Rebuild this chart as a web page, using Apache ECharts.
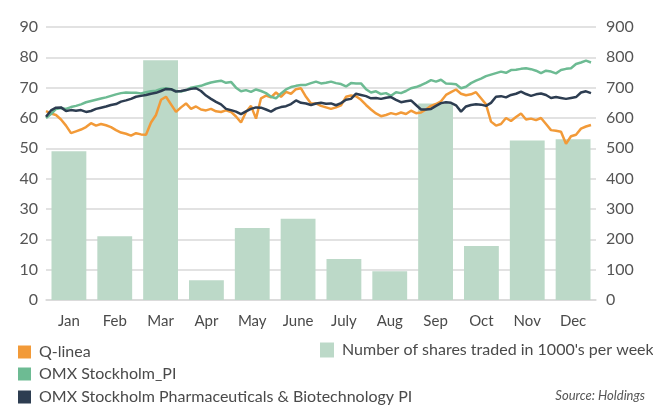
<!DOCTYPE html>
<html>
<head>
<meta charset="utf-8">
<script src="https://cdn.jsdelivr.net/npm/echarts@6/dist/echarts.min.js"></script>
<style>
html,body{margin:0;padding:0;background:#fff;}
#c{width:653px;height:405px;}
</style>
</head>
<body>
<div id="c"></div>
<script>
const months = ['Jan','Feb','Mar','Apr','May','June','July','Aug','Sep','Oct','Nov','Dec'];
const sharesTraded = [490,210,790,65,237,268,135,95,648,178,526,530];
const leftTicks = [0,10,20,30,40,50,60,70,80,90];
const rightTicks = [0,100,200,300,400,500,600,700,800,900];

const qlinea = [62.3,61.5,61.0,59.5,57.5,55.0,55.6,56.2,57.0,58.3,57.5,58.0,57.6,57.0,56.0,55.2,54.8,54.2,55.0,54.6,
54.5,58.5,61.0,66.0,67.0,64.5,62.0,63.5,64.8,63.0,63.8,62.8,62.5,63.0,62.2,62.0,62.5,62.0,60.5,58.5,
62.0,64.0,59.8,66.5,67.4,66.8,68.4,67.0,68.6,68.0,69.5,69.8,67.0,64.8,64.8,64.0,63.5,63.0,63.5,64.2,
67.0,67.4,67.2,66.0,64.3,62.8,61.5,60.6,61.0,61.6,61.2,61.8,61.3,62.4,61.6,61.8,62.8,64.0,64.6,65.5,
67.6,68.5,69.4,68.0,67.5,67.8,68.5,66.5,64.5,58.8,57.5,58.0,60.0,59.0,60.3,61.5,59.5,59.8,59.3,60.0,
58.0,56.0,55.8,55.5,51.5,54.0,54.5,56.5,57.2,57.7];

const omxPI = [60.0,61.3,63.0,63.3,63.0,63.6,64.0,64.5,65.2,65.6,66.0,66.4,66.8,67.3,67.8,68.2,68.4,68.3,68.3,68.1,
68.5,68.8,69.0,69.6,69.8,69.5,68.9,68.7,69.2,70.0,70.3,70.6,71.2,71.7,72.0,72.3,71.6,71.9,70.0,68.8,
69.2,68.6,69.4,68.9,68.2,67.0,66.5,68.1,69.4,70.2,70.6,70.9,70.9,71.5,72.0,71.4,71.6,72.0,71.5,71.2,
70.4,71.5,71.4,71.4,69.5,68.4,68.8,67.9,68.2,67.3,68.5,68.2,68.9,69.8,70.2,70.8,71.6,72.5,72.0,72.6,
71.4,71.3,71.1,69.8,70.3,71.5,72.3,73.0,73.8,74.3,74.8,75.3,74.9,75.8,75.9,76.2,76.4,76.1,75.6,74.8,
75.6,75.3,74.7,75.8,76.2,76.4,77.8,78.3,78.9,78.3];

const omxPharma = [60.4,62.5,63.4,63.5,62.3,62.6,62.4,62.6,62.0,62.3,63.0,63.4,63.8,64.3,64.6,65.4,65.8,66.3,67.0,67.3,
67.6,68.0,68.3,68.9,69.6,69.5,68.7,68.9,69.2,69.6,69.8,68.9,67.4,66.3,65.3,64.5,63.0,62.6,62.1,61.3,
62.2,63.0,63.5,63.4,62.8,62.1,63.1,63.6,63.9,64.6,65.8,65.0,64.8,64.3,64.8,65.0,64.7,64.8,64.2,64.9,
66.0,66.3,68.0,67.6,67.2,66.5,66.6,66.3,66.7,66.9,66.0,65.2,65.5,65.8,64.3,62.8,62.8,63.0,64.0,64.9,
65.2,65.0,64.2,62.1,63.8,64.3,64.5,64.4,64.0,65.0,67.0,67.2,66.8,67.6,68.0,68.7,67.9,67.3,67.8,68.1,
67.6,66.6,66.9,66.6,66.3,66.6,66.9,68.4,68.8,68.2];

const dayIndex = [];
for (let i = 0; i <= qlinea.length; i++) dayIndex.push(i);

const FONT = 'Lato';
const AX = '#4a4a4a';
const GRID = '#d9d9d9';
const legendText = {color: AX, fontSize: 16, fontFamily: FONT, padding: [0, 0, 0, 3]};
function oneLegend(name, left, top) {
  return {orient: 'horizontal', left: left, top: top, itemWidth: 13, itemHeight: 13,
    icon: 'rect', padding: 0, textStyle: legendText, data: [name]};
}

const chart = echarts.init(document.getElementById('c'), null, {renderer: 'canvas'});
chart.setOption({
  animation: false,
  backgroundColor: '#fff',
  textStyle: {fontFamily: FONT},
  grid: {left: 46, right: 57, top: 27, bottom: 105, containLabel: false},
  xAxis: [
    {type: 'category', data: months, boundaryGap: true,
     axisTick: {show: false},
     axisLine: {show: true, lineStyle: {color: GRID, width: 1.5}},
     axisLabel: {color: AX, fontSize: 15, margin: 14, fontFamily: FONT}},
    {type: 'category', data: dayIndex, boundaryGap: false, show: false}
  ],
  yAxis: [
    {type: 'value', min: 0, max: 90, interval: 10, position: 'left',
     axisLine: {show: false}, axisTick: {show: false},
     splitLine: {lineStyle: {color: GRID, width: 1.5}},
     axisLabel: {color: '#555', fontSize: 16, margin: 8, fontFamily: FONT}},
    {type: 'value', min: 0, max: 900, interval: 100, position: 'right',
     axisLine: {show: false}, axisTick: {show: false},
     splitLine: {show: false},
     axisLabel: {color: '#555', fontSize: 16, margin: 10, fontFamily: FONT}}
  ],
  legend: [
    oneLegend('Q-linea', 18, 344),
    oneLegend('OMX Stockholm_PI', 18, 366),
    oneLegend('OMX Stockholm Pharmaceuticals & Biotechnology PI', 18, 389),
    {orient: 'horizontal', left: 320, top: 342, itemWidth: 14, itemHeight: 15, padding: 0,
     icon: 'rect', textStyle: legendText,
     data: ["Number of shares traded in 1000's per week"]}
  ],
  graphic: [
    {type: 'text', right: 8, top: 389,
     style: {text: 'Source: Holdings', fill: '#555', font: 'italic 13px Lato'}}
  ],
  series: [
    {name: "Number of shares traded in 1000's per week", type: 'bar',
     xAxisIndex: 0, yAxisIndex: 1, data: sharesTraded, barWidth: '76%',
     itemStyle: {color: '#bcd9c8'}, z: 1},
    {name: 'Q-linea', type: 'line', xAxisIndex: 1, yAxisIndex: 0, data: qlinea,
     showSymbol: false, symbol: 'none', lineStyle: {color: '#f29a38', width: 2.5},
     itemStyle: {color: '#f29a38'}, z: 3},
    {name: 'OMX Stockholm_PI', type: 'line', xAxisIndex: 1, yAxisIndex: 0, data: omxPI,
     showSymbol: false, symbol: 'none', lineStyle: {color: '#6dbb93', width: 2.5},
     itemStyle: {color: '#6dbb93'}, z: 4},
    {name: 'OMX Stockholm Pharmaceuticals & Biotechnology PI', type: 'line', xAxisIndex: 1, yAxisIndex: 0, data: omxPharma,
     showSymbol: false, symbol: 'none', lineStyle: {color: '#2d3d51', width: 2.5},
     itemStyle: {color: '#2d3d51'}, z: 5}
  ]
});
</script>
</body>
</html>
